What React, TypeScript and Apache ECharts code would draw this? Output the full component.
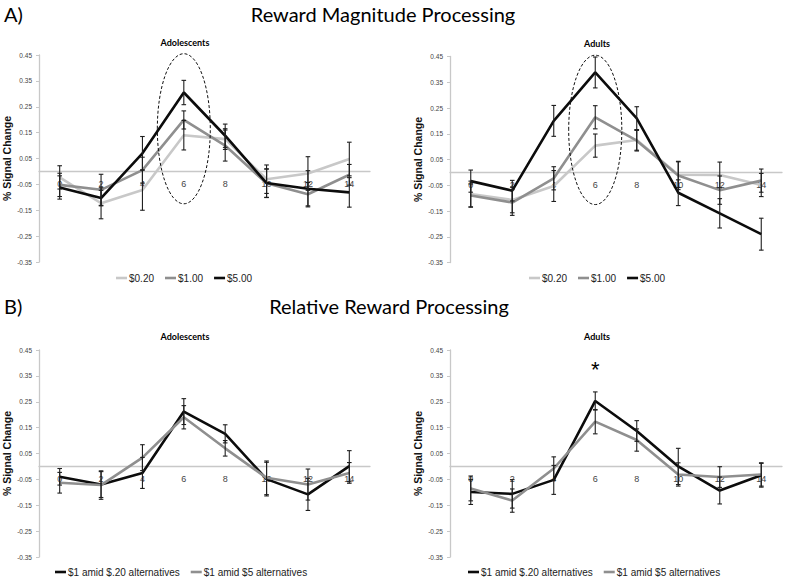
import { useEffect, useRef } from "react";
import * as echarts from "echarts";

const TIMES = ["0", "2", "4", "6", "8", "10", "12", "14"];
const Y_TICKS = { min: -0.35, max: 0.45, interval: 0.1 };

// A) reward magnitude, adolescents
const ADO_020 = [-0.023, -0.123, -0.072, 0.14, 0.125, -0.03, -0.008, 0.048];
const ADO_020_ERR = [0.045, 0.06, 0.078, 0.057, 0.04, 0.055, 0.065, 0.065];
const ADO_100 = [-0.052, -0.071, 0.005, 0.199, 0.1, -0.046, -0.088, -0.013];
const ADO_100_ERR = [0.045, 0.06, 0.05, 0.035, 0.06, 0.055, 0.045, 0.04];
const ADO_500 = [-0.062, -0.103, 0.07, 0.305, 0.138, -0.045, -0.067, -0.081];
const ADO_500_ERR = [0.045, 0.03, 0.065, 0.047, 0.045, 0.055, 0.07, 0.057];

// A) reward magnitude, adults
const ADU_020 = [-0.084, -0.107, -0.053, 0.104, 0.126, -0.009, -0.01, -0.049];
const ADU_020_ERR = [0.05, 0.05, 0.06, 0.045, 0.04, 0.05, 0.05, 0.045];
const ADU_100 = [-0.09, -0.117, -0.023, 0.214, 0.123, -0.012, -0.069, -0.032];
const ADU_100_ERR = [0.045, 0.05, 0.045, 0.045, 0.04, 0.055, 0.055, 0.045];
const ADU_500 = [-0.034, -0.071, 0.2, 0.388, 0.21, -0.079, -0.159, -0.24];
const ADU_500_ERR = [0.043, 0.04, 0.06, 0.06, 0.045, 0.05, 0.057, 0.062];

// B) relative reward, adolescents
const REL_ADO_LOW = [-0.04, -0.07, -0.025, 0.212, 0.126, -0.049, -0.108, 0.001];
const REL_ADO_LOW_ERR = [0.032, 0.05, 0.06, 0.05, 0.035, 0.065, 0.062, 0.06];
const REL_ADO_HIGH = [-0.063, -0.072, 0.034, 0.19, 0.07, -0.044, -0.07, -0.025];
const REL_ADO_HIGH_ERR = [0.04, 0.055, 0.05, 0.045, 0.03, 0.065, 0.06, 0.04];

// B) relative reward, adults
const REL_ADU_LOW = [-0.099, -0.106, -0.052, 0.253, 0.137, 0, -0.093, -0.034];
const REL_ADU_LOW_ERR = [0.048, 0.055, 0.056, 0.035, 0.04, 0.07, 0.052, 0.046];
const REL_ADU_HIGH = [-0.085, -0.132, -0.008, 0.173, 0.102, -0.031, -0.041, -0.031];
const REL_ADU_HIGH_ERR = [0.048, 0.045, 0.045, 0.047, 0.043, 0.045, 0.04, 0.045];

// peak window highlighted in panel A: centre (category idx, value) and half-sizes
const PEAK_WINDOW = { idx: 3, mid: 0.165, halfBand: 0.64, halfValue: 0.29 };

const MAG_NAMES = ["$0.20", "$1.00", "$5.00"];
const REL_NAMES = ["$1 amid $.20 alternatives", "$1 amid $5 alternatives"];

const LIGHT = "#c8c8c8";
const MID = "#8f8f8f";
const DARK = "#0c0c0c";
const AXIS = "#c8c8c8";
const SANS = "'Liberation Sans', Arial, sans-serif";
const HEAD = "Lato, 'Open Sans', sans-serif";

const GRIDS = [
  { left: 38, top: 55, width: 332, height: 207 },
  { left: 450, top: 56.5, width: 332, height: 206 },
  { left: 38, top: 350, width: 332, height: 207 },
  { left: 450, top: 350, width: 332, height: 207 },
];

function errorBars(values: number[], errs: number[], idx: number) {
  return {
    type: "custom" as const,
    xAxisIndex: idx,
    yAxisIndex: idx,
    z: 4,
    silent: true,
    encode: { x: 0, y: [1, 2] },
    data: values.map((v, i) => [i, v - errs[i], v + errs[i]]),
    renderItem: (_p: unknown, api: any) => {
      const i = api.value(0);
      const lo = api.coord([i, api.value(1)]);
      const hi = api.coord([i, api.value(2)]);
      const st = { stroke: "#1e1e1e", lineWidth: 1.1 };
      const w = 2.3;
      return {
        type: "group",
        children: [
          { type: "line", shape: { x1: hi[0], y1: hi[1], x2: lo[0], y2: lo[1] }, style: st },
          { type: "line", shape: { x1: hi[0] - w, y1: hi[1], x2: hi[0] + w, y2: hi[1] }, style: st },
          { type: "line", shape: { x1: lo[0] - w, y1: lo[1], x2: lo[0] + w, y2: lo[1] }, style: st },
        ],
      };
    },
  };
}

function line(name: string, data: number[], color: string, idx: number, extra: object = {}) {
  return {
    name,
    type: "line" as const,
    xAxisIndex: idx,
    yAxisIndex: idx,
    data,
    showSymbol: false,
    symbol: "none",
    z: 3,
    itemStyle: { color },
    lineStyle: { color, width: 2.6 },
    ...extra,
  };
}

function peakEllipse(idx: number) {
  return {
    type: "custom" as const,
    xAxisIndex: idx,
    yAxisIndex: idx,
    z: 5,
    silent: true,
    data: [[PEAK_WINDOW.idx, PEAK_WINDOW.mid]],
    renderItem: (_p: unknown, api: any) => {
      const c = api.coord([api.value(0), api.value(1)]);
      const s = api.size([1, PEAK_WINDOW.halfValue]);
      return {
        type: "ellipse",
        shape: { cx: c[0], cy: c[1], rx: s[0] * PEAK_WINDOW.halfBand, ry: s[1] },
        style: { fill: "none", stroke: "#111", lineWidth: 1, lineDash: [3, 2] },
      };
    },
  };
}

function legend(names: string[], left: number, top: number) {
  return {
    data: names,
    left,
    top,
    padding: 0,
    icon: "rect",
    itemWidth: 11,
    itemHeight: 2.6,
    itemGap: 11,
    selectedMode: false,
    textStyle: { fontFamily: SANS, fontSize: 10, color: "#222", padding: [0, 0, 0, -3] },
  };
}

function heading(text: string, x: number, y: number, size: number, bold = false, align = "center") {
  return {
    type: "text" as const,
    x,
    y,
    style: {
      text,
      fill: "#000",
      font: `${bold ? "bold " : ""}${size}px ${HEAD}`,
      align,
      verticalAlign: "middle",
    },
  };
}

export default function App() {
  const ref = useRef<HTMLDivElement>(null);

  useEffect(() => {
    if (!ref.current) return;
    document.body.style.margin = "0";
    const chart = echarts.init(ref.current, undefined, { renderer: "svg" });

    // labels sit just under the zero line, as in the source figure
    const zeroShare = (0 - Y_TICKS.min) / (Y_TICKS.max - Y_TICKS.min);

    const xAxes = GRIDS.map((g, i) => ({
      type: "category" as const,
      gridIndex: i,
      data: TIMES,
      axisLine: { onZero: true, lineStyle: { color: AXIS, width: 1.3 } },
      axisTick: { show: false },
      axisLabel: { color: "#444", fontSize: 9, fontFamily: SANS, margin: 8 - g.height * zeroShare },
    }));

    const yAxes = GRIDS.map((_, i) => ({
      type: "value" as const,
      gridIndex: i,
      ...Y_TICKS,
      name: "% Signal Change",
      nameLocation: "middle" as const,
      nameGap: 27,
      nameTextStyle: { fontFamily: SANS, fontSize: 10.5, fontWeight: "bold" as const, color: "#111" },
      axisLine: { show: true, lineStyle: { color: AXIS, width: 1.3 } },
      axisTick: { show: true, length: 3, lineStyle: { color: AXIS } },
      splitLine: { show: false },
      axisLabel: {
        color: "#444",
        fontSize: 6.5,
        fontFamily: SANS,
        margin: 7,
        formatter: (v: number) => v.toFixed(2),
      },
    }));

    chart.setOption({
      animation: false,
      grid: GRIDS,
      xAxis: xAxes,
      yAxis: yAxes,
      legend: [
        legend(MAG_NAMES, 116, 273),
        legend(MAG_NAMES, 529, 273),
        legend(REL_NAMES, 55, 567),
        legend(REL_NAMES, 468, 567),
      ],
      graphic: [
        heading("A)", 4, 14, 20, false, "left"),
        heading("Reward Magnitude Processing", 383, 14, 20),
        heading("Adolescents", 185, 42, 9, true),
        heading("Adults", 597, 43, 9, true),
        heading("B)", 4, 306, 20, false, "left"),
        heading("Relative Reward Processing", 389, 306, 20),
        heading("Adolescents", 185, 336, 9, true),
        heading("Adults", 597, 336, 9, true),
      ],
      series: [
        line(MAG_NAMES[0], ADO_020, LIGHT, 0),
        line(MAG_NAMES[1], ADO_100, MID, 0),
        line(MAG_NAMES[2], ADO_500, DARK, 0),
        errorBars(ADO_020, ADO_020_ERR, 0),
        errorBars(ADO_100, ADO_100_ERR, 0),
        errorBars(ADO_500, ADO_500_ERR, 0),
        peakEllipse(0),

        line(MAG_NAMES[0], ADU_020, LIGHT, 1),
        line(MAG_NAMES[1], ADU_100, MID, 1),
        line(MAG_NAMES[2], ADU_500, DARK, 1),
        errorBars(ADU_020, ADU_020_ERR, 1),
        errorBars(ADU_100, ADU_100_ERR, 1),
        errorBars(ADU_500, ADU_500_ERR, 1),
        peakEllipse(1),

        line(REL_NAMES[0], REL_ADO_LOW, DARK, 2),
        line(REL_NAMES[1], REL_ADO_HIGH, MID, 2),
        errorBars(REL_ADO_LOW, REL_ADO_LOW_ERR, 2),
        errorBars(REL_ADO_HIGH, REL_ADO_HIGH_ERR, 2),

        line(REL_NAMES[0], REL_ADU_LOW, DARK, 3, {
          markPoint: {
            symbol: "circle",
            symbolSize: 0,
            silent: true,
            label: { show: true, formatter: "*", fontSize: 22, fontFamily: SANS, color: "#000" },
            data: [{ coord: [3, 0.375] }],
          },
        }),
        line(REL_NAMES[1], REL_ADU_HIGH, MID, 3),
        errorBars(REL_ADU_LOW, REL_ADU_LOW_ERR, 3),
        errorBars(REL_ADU_HIGH, REL_ADU_HIGH_ERR, 3),
      ],
    });

    return () => chart.dispose();
  }, []);

  return <div ref={ref} style={{ width: 787, height: 583 }} />;
}
